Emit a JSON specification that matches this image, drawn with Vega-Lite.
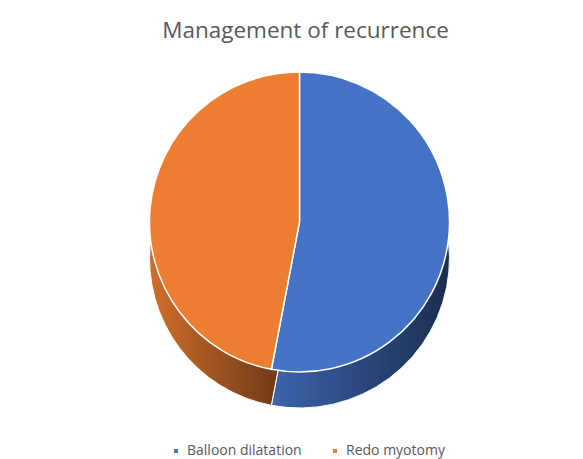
{
  "$schema": "https://vega.github.io/schema/vega-lite/v6.json",
  "width": 567,
  "height": 344,
  "autosize": {"type": "none"},
  "padding": {"left": 16, "right": 0, "top": 50, "bottom": 65},
  "background": "white",
  "title": {
    "text": "Management of recurrence",
    "font": "Open Sans",
    "fontSize": 22.5,
    "fontWeight": "normal",
    "color": "#595959",
    "anchor": "middle",
    "dx": 6,
    "offset": 8
  },
  "data": {
    "values": [
      {"category": "Balloon dilatation", "value": 53},
      {"category": "Redo myotomy", "value": 47}
    ]
  },
  "encoding": {
    "theta": {"field": "value", "type": "quantitative", "stack": true},
    "order": {"field": "category", "sort": "ascending"},
    "color": {
      "field": "category",
      "type": "nominal",
      "scale": {"domain": ["Balloon dilatation", "Redo myotomy"], "range": ["#4472C4", "#ED7D31"]},
      "legend": {
        "title": null,
        "orient": "none",
        "legendX": 153,
        "legendY": 394,
        "direction": "horizontal",
        "symbolType": "square",
        "symbolSize": 30,
        "labelFont": "Open Sans",
        "labelFontSize": 14,
        "labelColor": "#595959",
        "columnPadding": 26
      }
    }
  },
  "layer": [
    {
      "mark": {"type": "arc", "radius": 150, "yOffset": 36}
    },
    {
      "mark": {
        "type": "arc",
        "radius": 150,
        "yOffset": 36,
        "fill": {
          "gradient": "linear",
          "x1": 0, "y1": 0, "x2": 1, "y2": 0,
          "stops": [
            {"offset": 0, "color": "rgba(0,0,0,0.12)"},
            {"offset": 1, "color": "rgba(0,0,0,0.6)"}
          ]
        },
        "stroke": "white",
        "strokeWidth": 1
      }
    },
    {
      "mark": {"type": "arc", "radius": 150, "stroke": "white", "strokeWidth": 1.5}
    }
  ]
}
